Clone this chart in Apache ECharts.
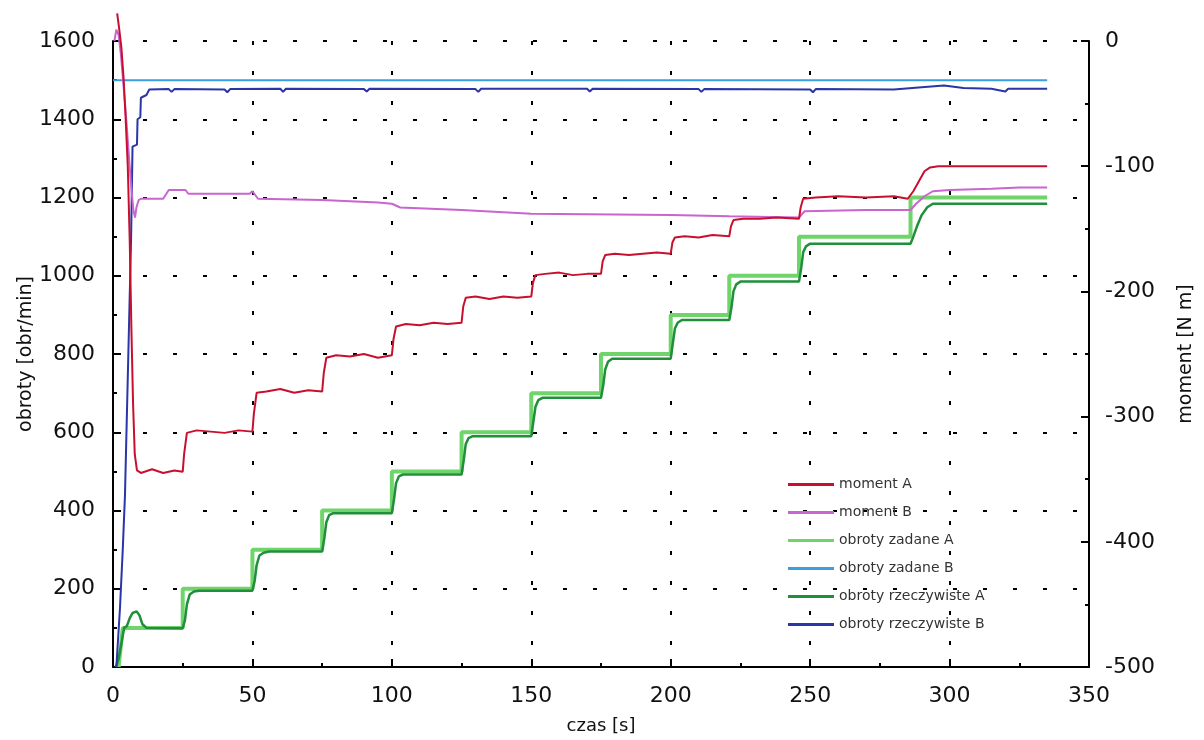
<!DOCTYPE html>
<html>
<head>
<meta charset="utf-8">
<title>obroty / moment</title>
<script src="https://cdn.jsdelivr.net/npm/echarts@6/dist/echarts.min.js"></script>
<style>
  html, body { margin: 0; padding: 0; background: #fff; }
  #chart { width: 1204px; height: 740px; }
</style>
</head>
<body>
<div id="chart"></div>
<script>
// ---- data: [czas s, value] ----
const seriesNames = ['moment A', 'moment B', 'obroty zadane A', 'obroty zadane B', 'obroty rzeczywiste A', 'obroty rzeczywiste B'];
const xTicks = { min: 0, max: 350, step: 50 };
const leftTicks = { min: 0, max: 1600, step: 200 };
const rightTicks = { min: -500, max: 0, step: 100 };

// obroty zadane B [obr/min]
const zadaneB = [[0, 1500], [335, 1500]];

// obroty zadane A [obr/min]
const zadaneA = [
  [2, 0], [3.5, 100], [25, 100], [25, 200], [50, 200], [50, 300], [75, 300], [75, 400],
  [100, 400], [100, 500], [125, 500], [125, 600], [150, 600], [150, 700], [175, 700], [175, 800],
  [200, 800], [200, 900], [221, 900], [221, 1000], [246, 1000], [246, 1100], [286, 1100], [286, 1200],
  [335, 1200]
];

// obroty rzeczywiste A [obr/min]
const rzeczywisteA = [
  [1, 0], [2, 20], [3, 60], [4, 100], [5, 105], [6, 125], [7, 138], [8.5, 142], [9.5, 132], [10.5, 110], [12, 100], [25, 99],
  [25.8, 120], [26.5, 160], [27.5, 185], [29, 193], [31, 195], [50, 195],
  [50.8, 220], [51.5, 260], [52.5, 285], [54, 292], [56, 295], [75, 295],
  [75.8, 330], [76.5, 370], [77.5, 388], [79, 393], [100, 393],
  [100.8, 430], [101.5, 470], [102.5, 487], [104, 492], [125, 492],
  [125.8, 530], [126.5, 570], [127.5, 585], [129, 590], [150, 590],
  [150.8, 630], [151.5, 665], [152.5, 682], [154, 688], [175, 688],
  [175.8, 720], [176.5, 760], [177.5, 780], [179, 788], [200, 788],
  [200.8, 830], [201.5, 865], [202.5, 880], [204, 887], [221, 887],
  [221.8, 920], [222.5, 960], [223.5, 978], [225, 985], [246, 985],
  [246.8, 1020], [247.5, 1060], [248.5, 1075], [250, 1082], [286, 1082],
  [287, 1100], [288.5, 1130], [290, 1155], [292, 1175], [294, 1184], [335, 1184]
];

// obroty rzeczywiste B [obr/min]
const rzeczywisteB = [
  [1.2, 0], [2.5, 150], [3.5, 300], [4.3, 440], [5.5, 800], [6.5, 1100], [7, 1330], [8.6, 1335],
  [8.8, 1400], [9.8, 1405], [10, 1455], [12, 1462], [13, 1476], [20, 1477], [21, 1470], [22, 1477],
  [40, 1476], [41, 1469], [42, 1477], [60, 1478], [61, 1470], [62, 1478], [90, 1477], [91, 1471],
  [92, 1478], [130, 1477], [131, 1470], [132, 1478], [170, 1478], [171, 1471], [172, 1478],
  [210, 1477], [211, 1470], [212, 1477], [250, 1476], [251, 1469], [252, 1477], [280, 1476],
  [290, 1482], [298, 1486], [305, 1480], [315, 1478], [320, 1471], [321, 1478], [335, 1478]
];

// moment A [N m]
const momentA = [
  [1.5, 22], [2.2, 10], [3, -5], [3.8, -30], [4.5, -60], [5.3, -100], [6, -160], [6.6, -230], [7.2, -290], [7.8, -330],
  [8.6, -343], [10, -345], [14, -342], [18, -345], [22, -343], [25, -344],
  [25.5, -330], [26.5, -313], [30, -311], [35, -312], [40, -313], [45, -311], [50, -312],
  [50.5, -298], [51.5, -281], [55, -280], [60, -278], [65, -281], [70, -279], [75, -280],
  [75.6, -265], [76.5, -253], [80, -251], [85, -252], [90, -250], [95, -253], [100, -251],
  [100.6, -238], [101.5, -228], [105, -226], [110, -227], [115, -225], [120, -226], [125, -225],
  [125.6, -212], [126.5, -205], [130, -204], [135, -206], [140, -204], [145, -205], [150, -204],
  [150.6, -193], [151.5, -187], [155, -186], [160, -185], [165, -187], [170, -186], [175, -186],
  [175.6, -176], [176.5, -171], [180, -170], [185, -171], [190, -170], [195, -169], [200, -170],
  [200.6, -161], [201.5, -157], [205, -156], [210, -157], [215, -155], [221, -156],
  [221.6, -148], [222.5, -143], [226, -142], [232, -142], [238, -141], [246, -142],
  [246.6, -133], [247.5, -126], [252, -125], [260, -124], [270, -125], [280, -124], [285, -126],
  [287, -120], [289, -112], [291, -104], [293, -101], [296, -100], [310, -100], [320, -100], [335, -100]
];

// moment B [N m]
const momentB = [
  [0.5, 0], [1.2, 9], [2, 5], [2.8, -10], [3.5, -28], [4.3, -50], [5, -70], [5.8, -95], [6.6, -118], [7.3, -135],
  [7.9, -141], [8.4, -133], [9.2, -127], [10, -126], [18, -126], [20, -119], [26, -119], [27, -122],
  [49, -122], [50, -120], [52, -126], [75, -127], [95, -129], [100, -130], [103, -133], [125, -135],
  [150, -138], [200, -139], [221, -140], [246, -141], [248, -136], [270, -135], [286, -135],
  [288, -130], [291, -124], [294, -120], [300, -119], [315, -118], [325, -117], [335, -117]
];

const chart = echarts.init(document.getElementById('chart'));

const font = 'DejaVu Sans';
const dots = { color: '#000', width: 2, type: [4, 26] };
const plain = v => String(v);

const lineSeries = (name, data, color, width, yAxisIndex, z) => ({
  name,
  type: 'line',
  data,
  yAxisIndex,
  symbol: 'none',
  showSymbol: false,
  clip: false,
  z,
  lineStyle: { color, width },
  itemStyle: { color }
});

const axisBase = {
  axisLine: { show: true, onZero: false, lineStyle: { color: '#000', width: 2 } },
  axisTick: { inside: true, length: 8, lineStyle: { color: '#000', width: 2 } },
  minorTick: { show: true, splitNumber: 2, length: 4, lineStyle: { color: '#000', width: 2 } }
};

const option = {
  animation: false,
  backgroundColor: '#fff',
  grid: { left: 113, right: 115, top: 41, bottom: 67 },
  legend: {
    orient: 'vertical',
    left: 783,
    top: 471,
    icon: 'rect',
    itemWidth: 46,
    itemHeight: 3,
    itemGap: 11,
    data: seriesNames,
    textStyle: { fontFamily: font, fontSize: 14, color: '#333', lineHeight: 17 }
  },
  xAxis: {
    type: 'value',
    min: xTicks.min,
    max: xTicks.max,
    interval: xTicks.step,
    name: 'czas [s]',
    nameLocation: 'middle',
    nameGap: 50,
    nameTextStyle: { fontFamily: font, fontSize: 18, color: '#111' },
    ...axisBase,
    axisLabel: { fontFamily: font, fontSize: 22, color: '#111', margin: 18, formatter: plain },
    splitLine: { show: true, lineStyle: dots }
  },
  yAxis: [
    {
      type: 'value',
      position: 'left',
      min: leftTicks.min,
      max: leftTicks.max,
      interval: leftTicks.step,
      name: 'obroty [obr/min]',
      nameLocation: 'middle',
      nameRotate: 90,
      nameGap: 77,
      nameMoveOverlap: false,
      nameTextStyle: { fontFamily: font, fontSize: 19, color: '#111' },
      ...axisBase,
      axisLabel: { fontFamily: font, fontSize: 22, color: '#111', margin: 18, formatter: plain },
      splitLine: { show: true, lineStyle: dots }
    },
    {
      type: 'value',
      position: 'right',
      min: rightTicks.min,
      max: rightTicks.max,
      interval: rightTicks.step,
      name: 'moment [N m]',
      nameLocation: 'middle',
      nameRotate: 90,
      nameGap: 88,
      nameTextStyle: { fontFamily: font, fontSize: 19, color: '#111' },
      ...axisBase,
      axisLabel: { fontFamily: font, fontSize: 22, color: '#111', margin: 16, formatter: plain },
      splitLine: { show: false }
    }
  ],
  series: [
    lineSeries('obroty zadane B', zadaneB, '#3a9fe0', 2, 0, 2),
    lineSeries('obroty zadane A', zadaneA, '#6fd46a', 4, 0, 3),
    lineSeries('obroty rzeczywiste A', rzeczywisteA, '#1f8f3a', 2.5, 0, 4),
    lineSeries('obroty rzeczywiste B', rzeczywisteB, '#2a35a8', 2, 0, 5),
    lineSeries('moment B', momentB, '#c865cf', 2, 1, 6),
    lineSeries('moment A', momentA, '#c8102e', 2, 1, 7)
  ]
};

chart.setOption(option);
</script>
</body>
</html>
